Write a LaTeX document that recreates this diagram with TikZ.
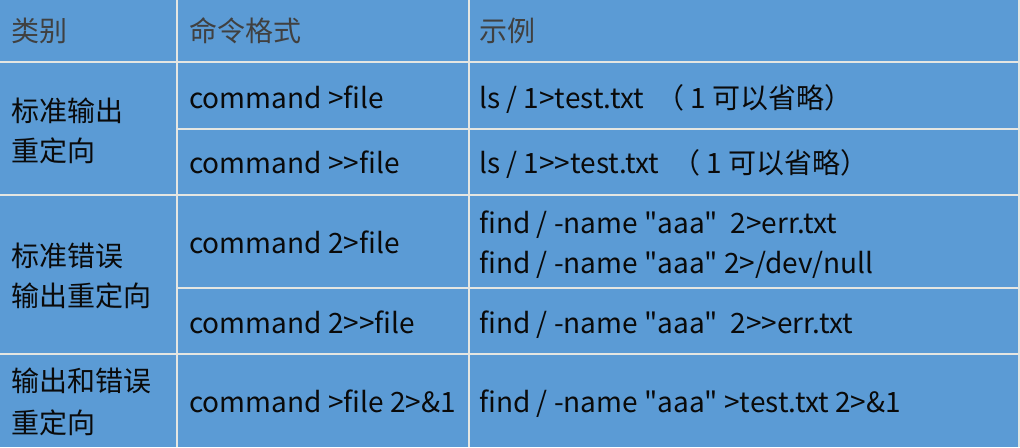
\documentclass[tikz,border=0pt]{standalone}
\usepackage{fontspec}
\setmainfont[Ligatures=TeXOff]{Noto Sans CJK SC}
\newlength{\du}
\setlength{\du}{0.75pt}
\definecolor{cellcolor}{RGB}{91,155,213}
\definecolor{rulecolor}{RGB}{228,230,226}
\definecolor{headcolor}{RGB}{64,64,64}
\definecolor{bodycolor}{RGB}{10,10,10}
\tikzset{
  headtext/.style={anchor=base west,inner sep=0pt,text=headcolor,font=\fontsize{21pt}{25pt}\selectfont},
  celltext/.style={anchor=base west,inner sep=0pt,text=bodycolor,font=\fontsize{21pt}{25pt}\selectfont},
  tablerule/.style={draw=rulecolor,line width=1.5pt}
}
\begin{document}
\begin{tikzpicture}
\pgftransformyscale{-1.000000}
% background
\fill[cellcolor] (0\du,0\du) rectangle (1020\du,447\du);
\useasboundingbox (0\du,0\du) rectangle (1020\du,447\du);
% rules
\draw[tablerule] (176.5\du,0\du)--(176.5\du,447\du);
\draw[tablerule] (468.5\du,0\du)--(468.5\du,447\du);
\draw[tablerule] (1019\du,0\du)--(1019\du,447\du);
\draw[tablerule] (0\du,62\du)--(1020\du,62\du);
\draw[tablerule] (176.5\du,129\du)--(1020\du,129\du);
\draw[tablerule] (0\du,195\du)--(1020\du,195\du);
\draw[tablerule] (176.5\du,288\du)--(1020\du,288\du);
\draw[tablerule] (0\du,354\du)--(1020\du,354\du);
% header
\node[headtext] (hkind) at (11\du,41\du){类别};
\node[headtext] (hcmd) at (189\du,41\du){命令格式};
\node[headtext] (hex) at (479\du,41\du){示例};
% stdout
\node[celltext] (kout1) at (11\du,121\du){标准输出};
\node[celltext] (kout2) at (11\du,161\du){重定向};
\node[celltext] (cout1) at (189\du,108\du){command >file};
\node[celltext] (cout2) at (189\du,173\du){command >>file};
\node[celltext] (eout1) at (479\du,108\du){ls / 1>test.txt \ （ 1 可以省略）};
\node[celltext] (eout2) at (479\du,173\du){ls / 1>>test.txt \ （ 1 可以省略）};
% stderr
\node[celltext] (kerr1) at (11\du,266\du){标准错误};
\node[celltext] (kerr2) at (11\du,306\du){输出重定向};
\node[celltext] (cerr1) at (189\du,253\du){command 2>file};
\node[celltext] (cerr2) at (189\du,333\du){command 2>>file};
\node[celltext] (eerr1) at (479\du,233\du){find / -name "aaa" \ 2>err.txt};
\node[celltext] (eerr2) at (479\du,273\du){find / -name "aaa" 2>/dev/null};
\node[celltext] (eerr3) at (479\du,333\du){find / -name "aaa" \ 2>>err.txt};
% both
\node[celltext] (kall1) at (11\du,391\du){输出和错误};
\node[celltext] (kall2) at (11\du,433\du){重定向};
\node[celltext] (call1) at (189\du,412\du){command >file 2>\&1};
\node[celltext] (eall1) at (479\du,412\du){find / -name "aaa" >test.txt 2>\&1};
\end{tikzpicture}
\end{document}
